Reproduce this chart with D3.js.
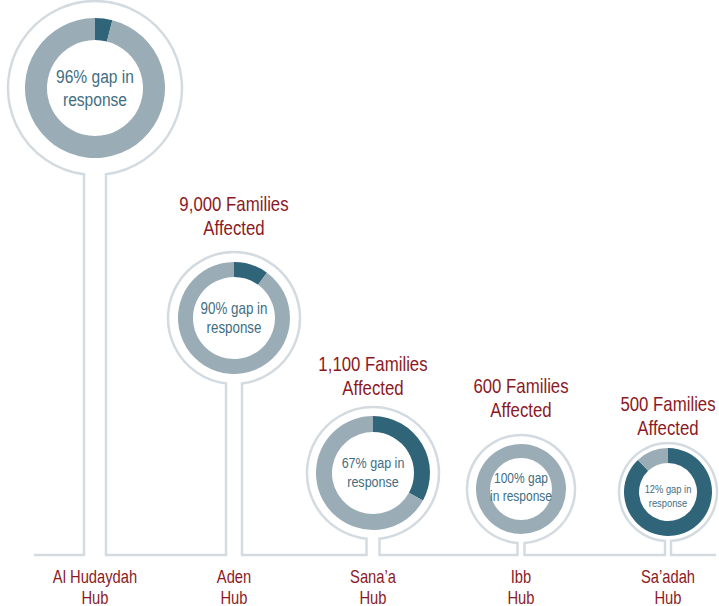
<!DOCTYPE html>
<meta charset="utf-8">
<style>
  body { margin: 0; background: #fff; }
</style>

<div class="chart"></div>

<script src="https://cdn.jsdelivr.net/npm/d3@7"></script>

<script>
    // data
    var hubs = ["Al Hudaydah", "Aden", "Sana’a", "Ibb", "Sa’adah"];
    var families = [null, 9000, 1100, 600, 500];
    var gapPct = [96, 90, 67, 100, 12];
    var hubSuffix = "Hub";

    var width = 719, height = 606,
        baseY = 555;

    // layout of the infographic (one value per hub)
    var xScale = d3.scaleOrdinal().domain(hubs).range([95, 234, 373, 521, 668]);
    var yScale = d3.scaleOrdinal().domain(hubs).range([88, 318, 473, 489, 492]);
    var ringR = d3.scaleOrdinal().domain(hubs).range([87, 66, 66, 54, 49]);
    var outerR = d3.scaleOrdinal().domain(hubs).range([70, 56, 57, 45, 44]);
    var innerR = d3.scaleOrdinal().domain(hubs).range([48, 41, 41, 31, 29]);
    var stemW = d3.scaleOrdinal().domain(hubs).range([22, 16, 13, 7, 6]);
    var innerFont = d3.scaleOrdinal().domain(hubs).range([19, 16.3, 15.3, 14.6, 11.4]);
    var innerDy = d3.scaleOrdinal().domain(hubs).range([0, 0, -1, -2, 4]);
    var titleY = d3.scaleOrdinal().domain(hubs).range([0, 216, 376, 398, 416]);

    var colors = { response: "#2f6479", gap: "#9aacb5", ring: "#d3dbe1",
                   red: "#8b1a1f", inner: "#3f6e82" };

    // narrow font if present, otherwise squeeze the regular one
    function hasFont(name) {
        var c = document.createElement("canvas").getContext("2d");
        var s = "abcdefgHIJ 0123456789";
        c.font = "40px monospace";
        var w0 = c.measureText(s).width;
        c.font = "40px '" + name + "', monospace";
        return c.measureText(s).width !== w0;
    }
    var narrow = hasFont("Liberation Sans Narrow");
    var fontFamily = narrow ? "'Liberation Sans Narrow'" : "'Liberation Sans', Arial, sans-serif";
    var squeeze = narrow ? 1 : 0.82;

    var svg = d3.select(".chart")
        .append("svg")
        .attr("width", width)
        .attr("height", height);

    // outline: baseline + stems + outer rings as one path
    var p = d3.path();
    p.moveTo(34, baseY);
    hubs.forEach(function(h) {
        var cx = xScale(h), cy = yScale(h), R = ringR(h), s = stemW(h) / 2;
        var a = Math.asin(s / R);
        p.lineTo(cx - s, baseY);
        p.lineTo(cx - s, cy + Math.sqrt(R * R - s * s));
        p.arc(cx, cy, R, Math.PI / 2 + a, Math.PI * 2.5 - a, false);
        p.lineTo(cx + s, baseY);
    });
    p.lineTo(716, baseY);

    svg.append("path")
        .attr("d", p.toString())
        .attr("fill", "none")
        .attr("stroke", colors.ring)
        .attr("stroke-width", 2.5);

    var pie = d3.pie().sort(null).value(function(d) { return d.v; });

    var rows = hubs.map(function(h, i) {
        return { hub: h, families: families[i], gap: gapPct[i] };
    });

    function textLines(g, lines, size, lh, fill) {
        var t = g.append("text")
            .attr("text-anchor", "middle")
            .attr("transform", "scale(" + squeeze + ",1)")
            .style("font-family", fontFamily)
            .style("font-size", size + "px")
            .attr("fill", fill);
        lines.forEach(function(l, i) {
            t.append("tspan")
                .attr("x", 0)
                .attr("y", (i - (lines.length - 1) / 2) * lh * size + 0.35 * size)
                .text(l);
        });
    }

    var hub = svg.selectAll(".hub")
        .data(rows)
        .enter().append("g")
        .attr("class", "hub");

    // donuts
    hub.each(function(d) {
        var g = d3.select(this).append("g")
            .attr("transform", "translate(" + xScale(d.hub) + "," + yScale(d.hub) + ")");
        var arc = d3.arc().innerRadius(innerR(d.hub)).outerRadius(outerR(d.hub));
        g.selectAll("path")
            .data(pie([{ k: "response", v: 100 - d.gap }, { k: "gap", v: d.gap }]))
            .enter().append("path")
            .attr("d", arc)
            .attr("fill", function(s) { return colors[s.data.k]; });

        var fs = innerFont(d.hub);
        var lines = d.gap >= 100
            ? [d.gap + "% gap", "in response"]
            : [d.gap + "% gap in", "response"];
        var tg = g.append("g").attr("transform", "translate(0," + innerDy(d.hub) + ")");
        textLines(tg, lines, fs, 1.2, colors.inner);
    });

    // families affected titles
    hub.filter(function(d) { return d.families != null; })
        .each(function(d) {
            var g = d3.select(this).append("g")
                .attr("transform", "translate(" + xScale(d.hub) + "," + titleY(d.hub) + ")");
            textLines(g, [d3.format(",")(d.families) + " Families", "Affected"], 20.5, 1.2, colors.red);
        });

    // hub names under the baseline
    hub.each(function(d) {
        var g = d3.select(this).append("g")
            .attr("transform", "translate(" + xScale(d.hub) + ",587)");
        textLines(g, [d.hub, hubSuffix], 18, 1.17, colors.red);
    });
</script>
